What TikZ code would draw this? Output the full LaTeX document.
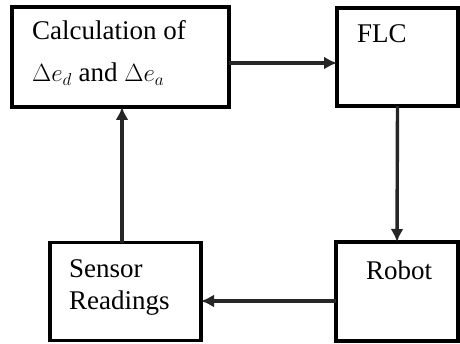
\documentclass[tikz,border=0pt]{standalone}
\usepackage{fontspec}
\setmainfont{Liberation Serif}
\usetikzlibrary{arrows.meta,positioning,calc}
\tikzset{
  block/.style={draw=black, line width=3.2pt, inner sep=0pt, outer sep=0pt},
  label/.style={anchor=base west, align=left, inner sep=0pt, font=\fontsize{27}{42}\selectfont},
  arrow/.style={-{Latex[length=13pt,width=13pt]}, line width=3.4pt, draw=black!85}
}
\begin{document}
\begin{tikzpicture}[x=1pt,y=1pt]
\useasboundingbox (0,0) rectangle (460,343);
\node[block, minimum width=217pt, minimum height=100pt] (calc) at (120.5,286) {};
\node[block, minimum width=121pt, minimum height=98pt] (flc) at (397.5,286) {};
\node[block, minimum width=122pt, minimum height=99pt] (robot) at (397,51.5) {};
\node[block, minimum width=151pt, minimum height=98pt] (sensor) at (125.5,51.5) {};

% multi-line texts sit on the baseline of their last line
\node[label] (calctext) at (32,261) {Calculation of\\$\Delta e_d$ and $\Delta e_a$};
\node[label] (flctext) at (357,300) {FLC};
\node[label, font=\fontsize{27}{32}\selectfont] (sensortext) at (69,34) {Sensor\\Readings};
\node[label] (robottext) at (366,64) {Robot};

\draw[arrow] ([yshift=-6pt]calc.east) -- ([yshift=-6pt]flc.west);
\draw[arrow] (flc.south) -- (robot.north);
\draw[arrow] ([yshift=-9.5pt]robot.west) -- ([yshift=-9.5pt]sensor.east);
\draw[arrow] ([xshift=-3.5pt]sensor.north) -- ([xshift=1.5pt]calc.south);
\end{tikzpicture}
\end{document}
